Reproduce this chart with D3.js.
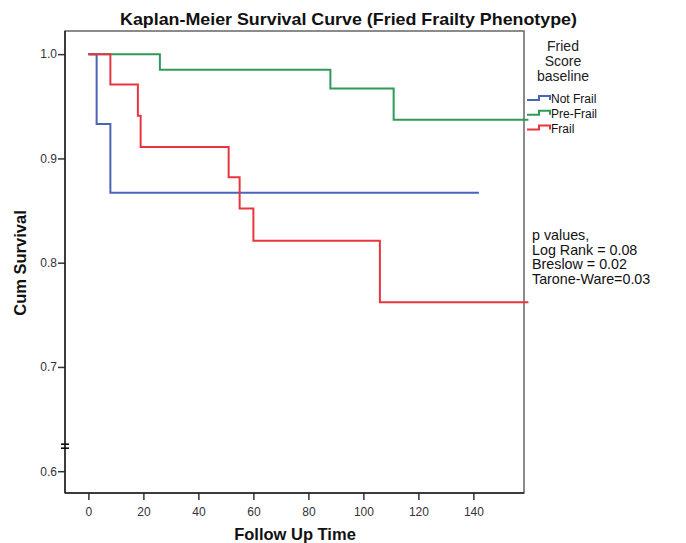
<!DOCTYPE html>
<html><head><meta charset="utf-8">
<script src="https://cdn.jsdelivr.net/npm/d3@7"></script>
<style>body{margin:0;background:#fff}svg{display:block}</style>
</head><body><svg id="c" width="686" height="543"></svg>
<script>
const groups = ["Not Frail", "Pre-Frail", "Frail"];
const colors = ["#4a64b8", "#2e9a5a", "#e8363e"];
// step survival curves: [time, survival]
const notFrail = [[0,1.0],[3,0.933],[8,0.867],[142,0.867]];
const preFrail = [[0,1.0],[26,0.985],[88,0.967],[111,0.937],[160,0.937]];
const frail = [[0,1.0],[8,0.971],[18,0.941],[19,0.911],[51,0.882],[55,0.852],[60,0.821],[106,0.762],[160,0.762]];
const xTicks = [0,20,40,60,80,100,120,140];
const yTicks = [0.6,0.7,0.8,0.9,1.0];
const pLines = ["p values,","Log Rank = 0.08","Breslow = 0.02","Tarone-Ware=0.03"];

const svg = d3.select("#c");
const L=65, R=524, T=31, B=493;
const x = d3.scaleLinear().domain([-8.5,158.4]).range([L,R]);
const y = d3.scaleLinear().domain([0.5791,1.0222]).range([B,T]);
const font = "'Liberation Sans', Arial, sans-serif";

// frame
svg.append("rect").attr("x",L).attr("y",T).attr("width",R-L).attr("height",B-T)
  .attr("fill","none").attr("stroke","#666").attr("stroke-width",1.5);

const line = d3.line().x(d=>x(d[0])).y(d=>y(d[1])).curve(d3.curveStepAfter);
const series=[notFrail,preFrail,frail];
[1,0,2].forEach(i=>{
  svg.append("path").datum(series[i]).attr("d",line).attr("fill","none")
    .attr("stroke",colors[i]).attr("stroke-width",2);
});

// axes
const xAxis = d3.axisBottom(x).tickValues(xTicks).tickSize(7).tickFormat(d3.format("d"));
const gx = svg.append("g").attr("transform",`translate(0,${B})`).call(xAxis);
gx.select(".domain").remove();
gx.selectAll("line").attr("stroke","#333").attr("stroke-width",1.5);
gx.selectAll("text").attr("font-family",font).attr("font-size",12).attr("fill","#333").attr("dy","1.1em");
const yAxis = d3.axisLeft(y).tickValues(yTicks).tickSize(7).tickFormat(d3.format(".1f"));
const gy = svg.append("g").attr("transform",`translate(${L},0)`).call(yAxis);
gy.select(".domain").remove();
gy.selectAll("line").attr("stroke","#333").attr("stroke-width",1.5);
gy.selectAll("text").attr("font-family",font).attr("font-size",12).attr("fill","#333").attr("x",-8);
svg.append("line").attr("x1",L).attr("x2",L).attr("y1",T).attr("y2",B).attr("stroke","#222").attr("stroke-width",1.5);
svg.append("line").attr("x1",L).attr("x2",R).attr("y1",B).attr("y2",B).attr("stroke","#222").attr("stroke-width",1.5);
// axis break
[-2,2].forEach(o=>{
  svg.append("line").attr("x1",L-4).attr("x2",L+4).attr("y1",y(0.624)+o).attr("y2",y(0.624)+o)
    .attr("stroke","#111").attr("stroke-width",1.6);
});

// title
svg.append("text").attr("x",348.5).attr("y",25).attr("text-anchor","middle")
  .attr("font-family",font).attr("font-weight","bold").attr("font-size",17)
  .attr("textLength",457).attr("lengthAdjust","spacingAndGlyphs").attr("fill","#111")
  .text("Kaplan-Meier Survival Curve (Fried Frailty Phenotype)");
// axis titles
svg.append("text").attr("x",295).attr("y",540).attr("text-anchor","middle")
  .attr("font-family",font).attr("font-weight","bold").attr("font-size",16.5).attr("fill","#111")
  .text("Follow Up Time");
svg.append("text").attr("transform","translate(26,263) rotate(-90)").attr("text-anchor","middle")
  .attr("font-family",font).attr("font-weight","bold").attr("font-size",16.5).attr("fill","#111")
  .text("Cum Survival");

// legend
["Fried","Score","baseline"].forEach((t,i)=>{
  svg.append("text").attr("x",563).attr("y",51+i*15).attr("text-anchor","middle")
    .attr("font-family",font).attr("font-size",14).attr("fill","#222").text(t);
});
groups.forEach((g,i)=>{
  const yy = 99 + i*14.8;
  svg.append("path").attr("d",`M527,${yy+1}H539V${yy-3}H550V${yy+1}`)
    .attr("fill","none").attr("stroke",colors[i]).attr("stroke-width",2);
  svg.append("text").attr("x",551).attr("y",yy+4).attr("font-family",font).attr("font-size",12)
    .attr("fill","#111").text(g);
});

// p values
pLines.forEach((t,i)=>{
  svg.append("text").attr("x",532).attr("y",240+i*14.5).attr("font-family",font).attr("font-size",14.3)
    .attr("fill","#111").text(t);
});
</script></body></html>
